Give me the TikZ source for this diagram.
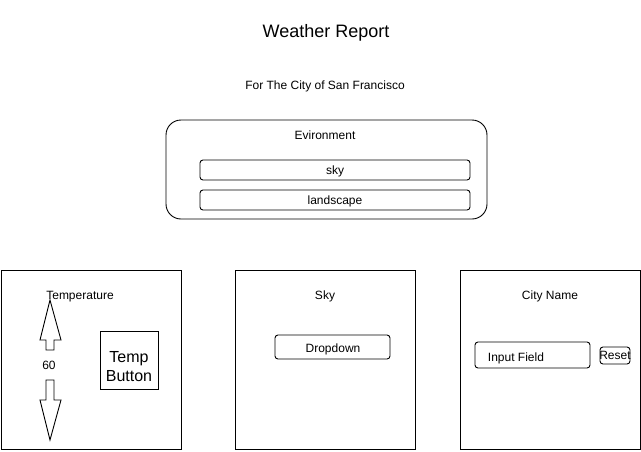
\documentclass[tikz,border=0pt]{standalone}
\usepackage{fontspec}
\setmainfont{Liberation Sans}
\begin{document}
\begin{tikzpicture}[x=1pt,y=-1pt,
  lw/.style={line width=0.9pt},
  panel/.style={lw,draw},
  field/.style={lw,draw,rounded corners=3pt},
  txt/.style={font=\fontsize{12}{14}\selectfont,inner sep=0pt,text height=8.6pt,text depth=0pt,anchor=center},
  big/.style={font=\fontsize{16}{19}\selectfont,inner sep=0pt,align=center}]
\useasboundingbox (0,0) rectangle (641,451);
% title
\node[inner sep=0pt,font=\fontsize{18}{21}\selectfont,text height=13pt,text depth=0pt] (title) at (326,31) {Weather Report};
\node[txt] (sub) at (325,85) {For The City of San Francisco};
% environment
\draw[lw,rounded corners=15pt] (166,120) rectangle (487,219);
\node[txt] (envt) at (325,135) {Evironment};
\draw[field] (200,160) rectangle (470,180);
\node[txt] (sky1) at (335,170) {sky};
\draw[field] (200,190) rectangle (470,210);
\node[txt] (land) at (335,200) {landscape};
% temperature panel
\draw[panel] (1,270) rectangle (181,449);
\node[txt] (tempt) at (80,295) {Temperature};
\draw[lw,line join=miter] (50,300) -- (61,340) -- (54,340) -- (54,350) -- (46,350) -- (46,340) -- (40,340) -- cycle;
\node[txt] (val) at (49,365) {60};
\draw[lw,line join=miter] (50,440) -- (61,400) -- (54,400) -- (54,380) -- (46,380) -- (46,400) -- (40,400) -- cycle;
\draw[panel] (100,331) rectangle (158,389);
\node[big] (tbtn) at (129,367) {Temp\\Button};
% sky panel
\draw[panel] (235,270) rectangle (415,449);
\node[txt] (skyt) at (325,295) {Sky};
\draw[field] (275,335) rectangle (390,359);
\node[txt] (dd) at (333,348) {Dropdown};
% city panel
\draw[panel] (460,270) rectangle (640,449);
\node[txt] (cityt) at (550,295) {City Name};
\draw[field] (475,342) rectangle (590,368);
\node[txt] (inp) at (516,357) {Input Field};
\draw[field] (600,347) rectangle (630,364);
\node[txt] (reset) at (615,355) {Reset};
\end{tikzpicture}
\end{document}
